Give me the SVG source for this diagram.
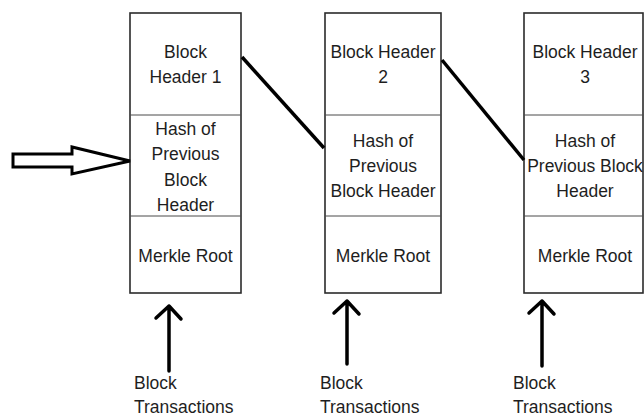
<svg xmlns="http://www.w3.org/2000/svg" width="644" height="416" viewBox="0 0 644 416">
  <style>
    .box { fill: #ffffff; stroke: #2b2b2b; stroke-width: 1.6; }
    .div { stroke: #4a4a4a; stroke-width: 1; }
    .t { font-family: "Liberation Sans", Arial, sans-serif; font-size: 17.5px; fill: #1e1e1e; text-anchor: middle; }
    .tl { font-family: "Liberation Sans", Arial, sans-serif; font-size: 17.5px; fill: #1e1e1e; }
    .link { stroke: #000000; stroke-width: 3.5; fill: none; }
    .up { stroke: #000000; stroke-width: 3.5; fill: none; stroke-linecap: round; stroke-linejoin: round; }
  </style>
  <rect width="644" height="416" fill="#ffffff"/>

  <!-- Block 1 -->
  <g id="block1">
    <rect class="box" x="130" y="13" width="111" height="280"/>
    <line class="div" x1="130" y1="115" x2="241" y2="115"/>
    <line class="div" x1="130" y1="216" x2="241" y2="216"/>
    <text class="t" x="185.5" y="58">Block</text>
    <text class="t" x="185.5" y="83">Header 1</text>
    <text class="t" x="185.5" y="135">Hash of</text>
    <text class="t" x="185.5" y="160">Previous</text>
    <text class="t" x="185.5" y="186">Block</text>
    <text class="t" x="185.5" y="211">Header</text>
    <text class="t" x="185.5" y="262">Merkle Root</text>
  </g>

  <!-- Block 2 -->
  <g id="block2">
    <rect class="box" x="325" y="13" width="116" height="280"/>
    <line class="div" x1="325" y1="115" x2="441" y2="115"/>
    <line class="div" x1="325" y1="216" x2="441" y2="216"/>
    <text class="t" x="383" y="58">Block Header</text>
    <text class="t" x="383" y="83">2</text>
    <text class="t" x="383" y="147">Hash of</text>
    <text class="t" x="383" y="172">Previous</text>
    <text class="t" x="383" y="197">Block Header</text>
    <text class="t" x="383" y="262">Merkle Root</text>
  </g>

  <!-- Block 3 -->
  <g id="block3">
    <rect class="box" x="524" y="13" width="119" height="280"/>
    <line class="div" x1="524" y1="115" x2="643" y2="115"/>
    <line class="div" x1="524" y1="216" x2="643" y2="216"/>
    <text class="t" x="585" y="58">Block Header</text>
    <text class="t" x="585" y="83">3</text>
    <text class="t" x="585" y="147">Hash of</text>
    <text class="t" x="585" y="172">Previous Block</text>
    <text class="t" x="585" y="197">Header</text>
    <text class="t" x="585" y="262">Merkle Root</text>
  </g>

  <!-- Transaction labels -->
  <g id="tx1">
    <text class="tl" x="134" y="389">Block</text>
    <text class="tl" x="134" y="413">Transactions</text>
  </g>
  <g id="tx2">
    <text class="tl" x="320" y="389">Block</text>
    <text class="tl" x="320" y="413">Transactions</text>
  </g>
  <g id="tx3">
    <text class="tl" x="513" y="389">Block</text>
    <text class="tl" x="513" y="413">Transactions</text>
  </g>

  <!-- Connectors -->
  <g id="connectors">
    <line class="link" x1="242" y1="57" x2="324" y2="148"/>
    <line class="link" x1="442" y1="60" x2="524" y2="160"/>
    <!-- hollow entry arrow -->
    <path d="M13,154 L72,154 L72,147 L130,161 L72,174 L72,167 L13,167 Z" fill="#ffffff" stroke="#000000" stroke-width="3" stroke-linejoin="miter"/>
    <!-- upward transaction arrows -->
    <path class="up" d="M169,371 L169,306 M156,318 L169,306 L181,319"/>
    <path class="up" d="M347,364 L347,301 M334,313 L347,301 L359,314"/>
    <path class="up" d="M542,366 L542,301 M529,313 L542,301 L554,314"/>
  </g>
</svg>
